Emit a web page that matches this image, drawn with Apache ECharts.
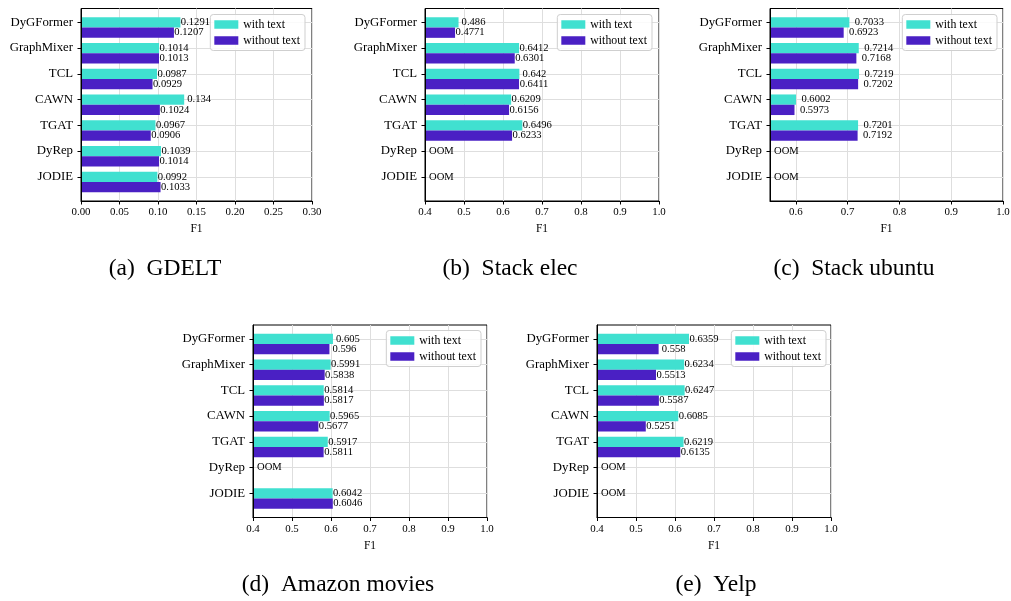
<!DOCTYPE html>
<html>
<head>
<meta charset="utf-8">
<script src="https://cdn.jsdelivr.net/npm/echarts@6/dist/echarts.min.js"></script>
<style>
html,body{margin:0;padding:0;background:#fff;}
#chart{width:1011px;height:601px;}
</style>
</head>
<body>
<div id="chart"></div>
<script>
// ---------- data ----------
var models = ['DyGFormer', 'GraphMixer', 'TCL', 'CAWN', 'TGAT', 'DyRep', 'JODIE'];
var seriesNames = ['with text', 'without text'];

var gdeltWith     = [0.1291, 0.1014, 0.0987, 0.134, 0.0967, 0.1039, 0.0992];
var gdeltWithout  = [0.1207, 0.1013, 0.0929, 0.1024, 0.0906, 0.1014, 0.1033];
var elecWith      = [0.486, 0.6412, 0.642, 0.6209, 0.6496, null, null];
var elecWithout   = [0.4771, 0.6301, 0.6411, 0.6156, 0.6233, null, null];
var ubuntuWith    = [0.7033, 0.7214, 0.7219, 0.6002, 0.7201, null, null];
var ubuntuWithout = [0.6923, 0.7168, 0.7202, 0.5973, 0.7192, null, null];
var amazonWith    = [0.605, 0.5991, 0.5814, 0.5965, 0.5917, null, 0.6042];
var amazonWithout = [0.596, 0.5838, 0.5817, 0.5677, 0.5811, null, 0.6046];
var yelpWith      = [0.6359, 0.6234, 0.6247, 0.6085, 0.6219, null, null];
var yelpWithout   = [0.558, 0.5513, 0.5587, 0.5251, 0.6135, null, null];

var gdeltTicks  = [0, 0.05, 0.10, 0.15, 0.20, 0.25, 0.30];
var elecTicks   = [0.4, 0.5, 0.6, 0.7, 0.8, 0.9, 1.0];
var ubuntuTicks = [0.6, 0.7, 0.8, 0.9, 1.0];
var amazonTicks = [0.4, 0.5, 0.6, 0.7, 0.8, 0.9, 1.0];
var yelpTicks   = [0.4, 0.5, 0.6, 0.7, 0.8, 0.9, 1.0];

var captions = ['(a)  GDELT', '(b)  Stack elec', '(c)  Stack ubuntu', '(d)  Amazon movies', '(e)  Yelp'];
var oomText = 'OOM';

// ---------- layout / style ----------
var FONT = '"Liberation Serif", "Times New Roman", serif';
var C_WITH = '#40e0d0';
var C_WITHOUT = '#4a20c4';

var panels = [
  {w: gdeltWith,  wo: gdeltWithout,  ticks: gdeltTicks,  min: 0,    max: 0.3, dec: 2, left: 81,  top: 8.5, width: 231, legRight: 706, legTop: 14.5, shift: 15, cap: [165, 269]},
  {w: elecWith,   wo: elecWithout,   ticks: elecTicks,   min: 0.4,  max: 1.0, dec: 1, left: 425, top: 8.5, width: 234, legRight: 359, legTop: 14.5, shift: 15, cap: [510, 269]},
  {w: ubuntuWith, wo: ubuntuWithout, ticks: ubuntuTicks, min: 0.55, max: 1.0, dec: 1, left: 770, top: 8.5, width: 233, legRight: 14,  legTop: 14.5, shift: 20, cap: [854, 269]},
  {w: amazonWith, wo: amazonWithout, ticks: amazonTicks, min: 0.4,  max: 1.0, dec: 1, left: 253, top: 325, width: 234, legRight: 530, legTop: 330.5, shift: 15, cap: [338, 585]},
  {w: yelpWith,   wo: yelpWithout,   ticks: yelpTicks,   min: 0.4,  max: 1.0, dec: 1, left: 597, top: 325, width: 234, legRight: 185, legTop: 330.5, shift: 15, cap: [716, 585]}
];
var PLOT_H = 192.5;
var catTicks = models.map(function (m, i) { return i; });

function toPairs(arr) {
  var out = [];
  arr.forEach(function (v, i) { if (v !== null) out.push([v, i]); });
  return out;
}
function oomPairs(arr, xmin) {
  var out = [];
  arr.forEach(function (v, i) { if (v === null) out.push([xmin, i]); });
  return out;
}

function makeBarRender(xmin, off, shift) {
  return function (params, api) {
    var v = api.value(0), idx = api.value(1);
    var p0 = api.coord([xmin, idx + off - 0.2]);
    var p1 = api.coord([v, idx + off + 0.2]);
    var pc = api.coord([v, idx + off]);
    var x0 = p0[0] + 1;
    var y0 = Math.min(p0[1], p1[1]);
    var h = Math.abs(p1[1] - p0[1]);
    return {
      type: 'group',
      children: [
        {type: 'rect', shape: {x: x0, y: y0, width: p1[0] - x0, height: h}, style: {fill: api.visual('color')}},
        {type: 'text', style: {text: String(v), x: pc[0] + shift, y: pc[1], fontSize: 10.6, fontFamily: FONT, fill: '#000',
          align: 'center', verticalAlign: 'middle', textAlign: 'center', textVerticalAlign: 'middle'}}
      ]
    };
  };
}
function oomRender(params, api) {
  var p = api.coord([api.value(0), api.value(1)]);
  return {type: 'text', style: {text: oomText, x: p[0] + 4, y: p[1], fontSize: 10.6, fontFamily: FONT, fill: '#000',
    align: 'left', verticalAlign: 'middle', textAlign: 'left', textVerticalAlign: 'middle'}};
}

var option = {
  animation: false,
  backgroundColor: '#fff',
  grid: [], xAxis: [], yAxis: [], series: [], legend: [], graphic: []
};

panels.forEach(function (p, i) {
  option.grid.push({left: p.left, top: p.top, width: p.width, height: PLOT_H, show: true,
    borderColor: '#000', borderWidth: 1, backgroundColor: 'transparent', containLabel: false, outerBoundsMode: 'none'});
  option.xAxis.push({
    type: 'value', gridIndex: i, min: p.min, max: p.max, position: 'bottom',
    name: 'F1', nameLocation: 'middle', nameGap: 22,
    nameTextStyle: {fontFamily: FONT, fontSize: 11.5, color: '#000'},
    axisLine: {show: true, onZero: false, lineStyle: {color: '#000', width: 1}},
    axisTick: {show: true, length: 3.5, customValues: p.ticks, lineStyle: {color: '#000', width: 1}},
    axisLabel: {customValues: p.ticks, margin: 6, fontFamily: FONT, fontSize: 10.9, color: '#000',
      formatter: (function (d) { return function (v) { return Number(v).toFixed(d); }; })(p.dec)},
    splitLine: {show: true, lineStyle: {color: '#dedede', width: 1}}
  });
  option.yAxis.push({
    type: 'value', gridIndex: i, min: -0.54, max: 6.94, inverse: true, position: 'left',
    axisLine: {show: true, onZero: false, lineStyle: {color: '#000', width: 1}},
    axisTick: {show: true, length: 3.5, customValues: catTicks, lineStyle: {color: '#000', width: 1}},
    axisLabel: {customValues: catTicks, margin: 8, fontFamily: FONT, fontSize: 12.8, color: '#000',
      formatter: function (v) { return models[Math.round(v)]; }},
    splitLine: {show: true, lineStyle: {color: '#dedede', width: 1}}
  });
  option.series.push({
    type: 'custom', name: seriesNames[0], xAxisIndex: i, yAxisIndex: i,
    itemStyle: {color: C_WITH}, renderItem: makeBarRender(p.min, 0, p.shift), data: toPairs(p.w), z: 2
  });
  option.series.push({
    type: 'custom', name: seriesNames[1], xAxisIndex: i, yAxisIndex: i,
    itemStyle: {color: C_WITHOUT}, renderItem: makeBarRender(p.min, 0.4, p.shift), data: toPairs(p.wo), z: 2
  });
  var oom = oomPairs(p.w, p.min);
  if (oom.length) {
    option.series.push({type: 'custom', name: 'OOM', xAxisIndex: i, yAxisIndex: i, renderItem: oomRender, data: oom, z: 2});
  }
  option.legend.push({
    data: seriesNames, orient: 'vertical', right: p.legRight, top: p.legTop,
    icon: 'rect', itemWidth: 24, itemHeight: 8.5, itemGap: 4, itemTextGap: 10,
    padding: [4, 5, 4, 4], borderColor: '#cfcfcf', borderWidth: 1, borderRadius: 3,
    backgroundColor: 'rgba(255,255,255,0.85)', selectedMode: false, z: 10,
    textStyle: {fontFamily: FONT, fontSize: 11.8, color: '#000', lineHeight: 12}
  });
  option.graphic.push({
    type: 'text', x: p.cap[0], y: p.cap[1],
    style: {text: captions[i], font: '23.5px ' + FONT, fill: '#000', align: 'center', verticalAlign: 'middle',
      textAlign: 'center', textVerticalAlign: 'middle'}
  });
});

var chart = echarts.init(document.getElementById('chart'), null, {renderer: 'canvas'});
chart.setOption(option);
</script>
</body>
</html>
